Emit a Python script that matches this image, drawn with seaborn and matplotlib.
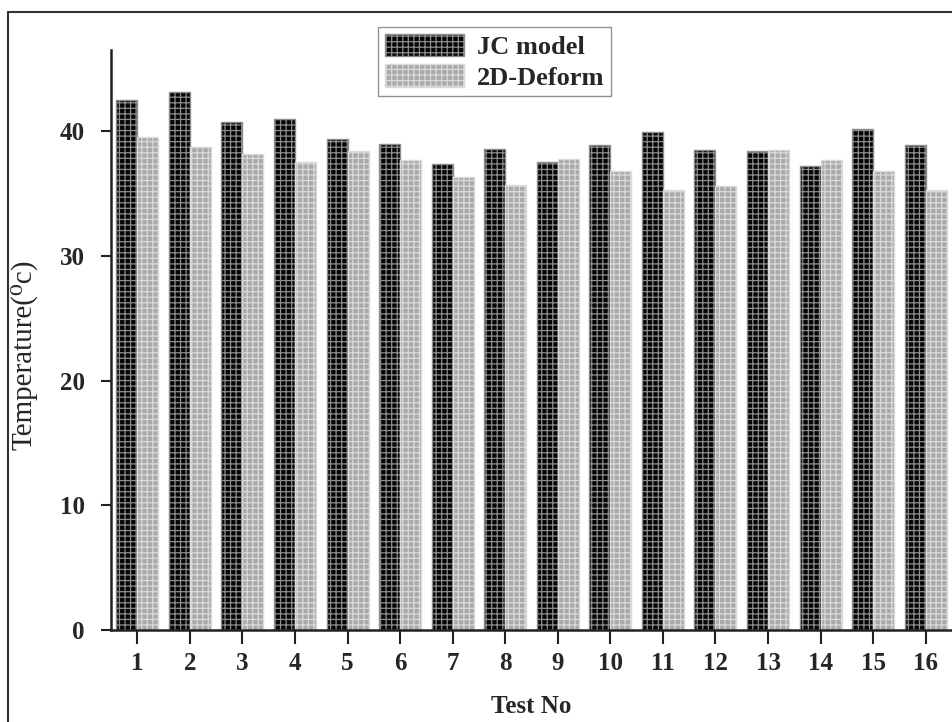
import matplotlib
matplotlib.use("Agg")
import matplotlib.pyplot as plt
import matplotlib.patches as mpatches
import seaborn as sns
import pandas as pd

# Measured / simulated temperatures per test
tests = [str(i) for i in range(1, 17)]
jc_model = [42.5, 43.1, 40.7, 41.0, 39.4, 39.0, 37.4, 38.6,
            37.5, 38.9, 39.9, 38.5, 38.4, 37.2, 40.2, 38.9]
deform_2d = [39.5, 38.7, 38.2, 37.5, 38.4, 37.7, 36.3, 35.7,
             37.8, 36.8, 35.3, 35.6, 38.5, 37.7, 36.8, 35.3]
series_names = ["JC model", "2D-Deform"]
y_ticks = [0, 10, 20, 30, 40]

df = pd.DataFrame({
    "Test No": tests * 2,
    "Temperature": jc_model + deform_2d,
    "Model": [series_names[0]] * len(tests) + [series_names[1]] * len(tests),
})

sns.set_theme(style="white")
plt.rcParams["font.family"] = ["Liberation Serif", "DejaVu Serif"]
plt.rcParams["hatch.linewidth"] = 0.9

fig = plt.figure(figsize=(9.52, 7.22), dpi=100)
ax = fig.add_axes([111 / 952, 92 / 722, 841 / 952, 580 / 722])

face = {"JC model": "#050505", "2D-Deform": "#a9a9a9"}
hatchc = {"JC model": "#8c8c8c", "2D-Deform": "#dadada"}

sns.barplot(data=df, x="Test No", y="Temperature", hue="Model",
            palette=face, saturation=1, width=0.8, ax=ax, legend=False)

# grid-like hatch inside each bar
n = len(tests)
for i, p in enumerate(ax.patches[:2 * n]):
    name = series_names[i // n]
    p.set_hatch("+++")
    p.set_edgecolor(hatchc[name])
    p.set_linewidth(1.0)

ax.set_xlim(-0.5, 15.5)
ax.set_ylim(0, 46.5)
ax.set_yticks(y_ticks)
ax.set_yticklabels([str(v) for v in y_ticks], fontweight="bold", fontsize=18)
ax.set_xticks(range(n))
ax.set_xticklabels(tests, fontweight="bold", fontsize=18)

for s in ["top", "right"]:
    ax.spines[s].set_visible(False)
for s in ["left", "bottom"]:
    ax.spines[s].set_linewidth(1.8)
    ax.spines[s].set_color("#222222")

ax.tick_params(axis="y", direction="out", length=7, width=1.5,
               color="#222222", pad=12, left=True)
ax.tick_params(axis="x", direction="out", length=10, width=1.5,
               color="#222222", pad=6, bottom=True)

ax.set_xlabel("Test No", fontweight="bold", fontsize=18, labelpad=14)
ax.set_ylabel("Temperature(\u2070c)", fontsize=21)
ax.yaxis.set_label_coords(-0.087, 0.474)

handles = [
    mpatches.Patch(facecolor=face[k], edgecolor=hatchc[k], hatch="+++",
                   linewidth=1.0, label=k)
    for k in series_names
]
leg = fig.legend(handles=handles, loc="upper left",
                 bbox_to_anchor=(378 / 952, 1 - 27 / 722),
                 borderaxespad=0,
                 prop={"weight": "bold", "size": 19},
                 frameon=True, fancybox=False, edgecolor="#777777",
                 handlelength=3.0, handleheight=0.95, handletextpad=0.5,
                 borderpad=0.25, labelspacing=0.2)
leg.get_frame().set_linewidth(1.0)

# outer frame around the figure
fig.patches.append(mpatches.Rectangle(
    (8 / 952, -0.01), 1.0, 1 - 12 / 722 + 0.01,
    transform=fig.transFigure, fill=False, edgecolor="#333333",
    linewidth=1.5, zorder=-1))

fig.savefig("out.png", dpi=100)
